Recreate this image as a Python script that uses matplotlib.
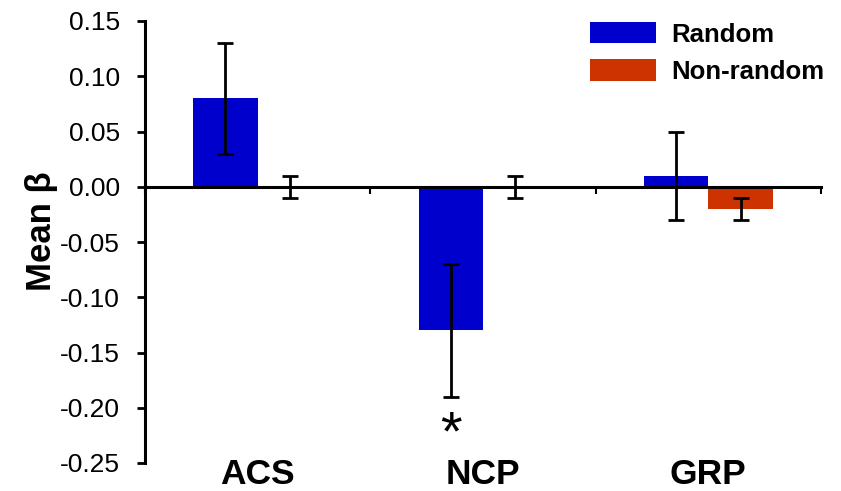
import matplotlib
matplotlib.use("Agg")
import matplotlib.pyplot as plt
import matplotlib.transforms as mtransforms
import numpy as np

plt.rcParams['font.family'] = ['Liberation Sans', 'DejaVu Sans']

categories = ['ACS', 'NCP', 'GRP']
random_vals = [0.08, -0.13, 0.01]
random_err = [0.05, 0.06, 0.04]
nonrandom_vals = [0.0, 0.0, -0.02]
nonrandom_err = [0.01, 0.01, 0.01]
series_names = ['Random', 'Non-random']
yticks = [-0.25, -0.20, -0.15, -0.10, -0.05, 0.00, 0.05, 0.10, 0.15]

blue = '#0000CC'
red = '#CC3300'

fig = plt.figure(figsize=(8.41, 4.91), dpi=100)
ax = fig.add_axes([145 / 841, 1 - 463 / 491, (821 - 145) / 841, (463 - 21) / 491])

x = np.arange(len(categories))
w = 1 / 3.5
ekw = dict(elinewidth=2.0, capthick=2.0, ecolor='black')
ax.bar(x - w / 2, random_vals, w, color=blue, label=series_names[0],
       yerr=random_err, capsize=5.5, error_kw=ekw)
ax.bar(x + w / 2, nonrandom_vals, w, color=red, label=series_names[1],
       yerr=nonrandom_err, capsize=5.5, error_kw=ekw)

ax.set_xlim(-0.5, len(categories) - 0.5)
ax.set_ylim(-0.25, 0.15)
ax.set_yticks(yticks)
ax.set_yticklabels(['%.2f' % v for v in yticks], fontsize=19)
ax.tick_params(axis='y', direction='out', length=6, width=2, pad=12)

# x axis drawn at zero with ticks at category boundaries
ax.spines['top'].set_visible(False)
ax.spines['right'].set_visible(False)
ax.spines['bottom'].set_position(('data', 0))
ax.spines['bottom'].set_linewidth(2.2)
ax.spines['left'].set_linewidth(2.2)
ax.set_xticks(np.arange(len(categories) + 1) - 0.5)
ax.set_xticklabels([])
ax.tick_params(axis='x', direction='out', length=5, width=1.5)

trans = mtransforms.blended_transform_factory(ax.transData, ax.transAxes)
for xi, c in zip(x, categories):
    ax.text(xi, -0.025, c, transform=trans, ha='center', va='center',
            fontsize=25.5, fontweight='bold')

# significance marker
ax.text(x[1] - w / 2, -0.225, '*', ha='center', va='center',
        fontsize=40)

ax.set_ylabel('Mean \u03b2', fontsize=25, fontweight='bold')
ax.yaxis.set_label_coords(-0.129, 0.525)

ax.legend(loc='upper left', bbox_to_anchor=(590 / 841, 1 - 22 / 491),
          bbox_transform=fig.transFigure, frameon=False,
          prop={'size': 18.5, 'weight': 'bold'}, handlelength=2.55,
          handleheight=0.9, handletextpad=0.6, labelspacing=0.5,
          borderpad=0, borderaxespad=0)

fig.savefig('out.png', dpi=100)
